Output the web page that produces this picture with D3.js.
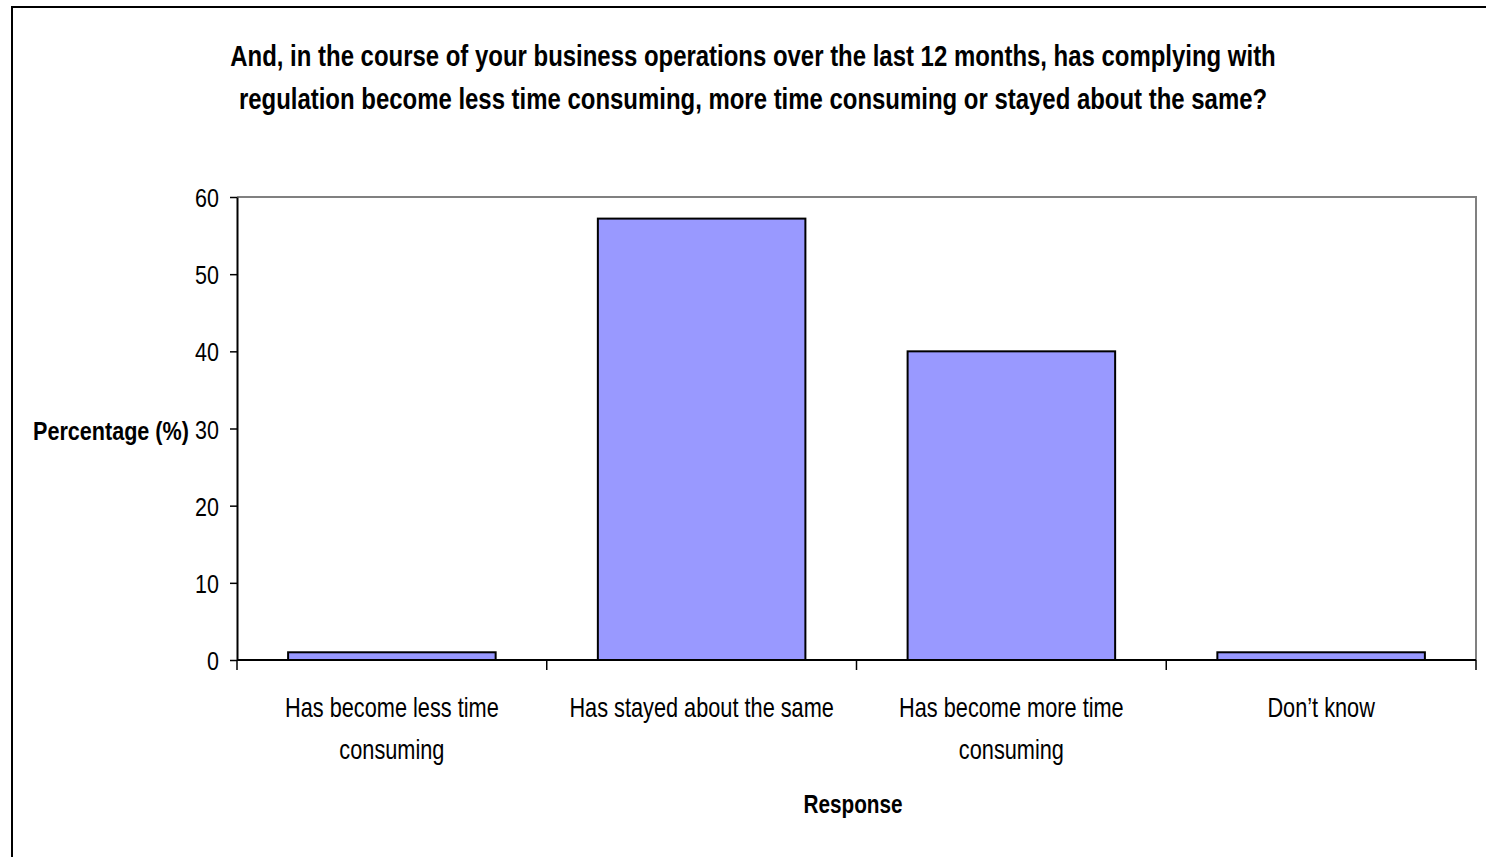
<!DOCTYPE html>
<html><head><meta charset="utf-8">
<script src="https://cdn.jsdelivr.net/npm/d3@7"></script>
<style>
html,body{margin:0;padding:0;background:#fff;}
svg{display:block;}
text{font-family:"Liberation Sans Narrow","Arial Narrow","Liberation Sans",sans-serif;fill:#000;}
</style></head>
<body>
<script>
const categories = [["Has become less time","consuming"],["Has stayed about the same"],["Has become more time","consuming"],["Don\u2019t know"]];
const values = [1, 57.2, 40, 1];
const yTicks = [0,10,20,30,40,50,60];
const titleLines = ["And, in the course of your business operations over the last 12 months, has complying with","regulation become less time consuming, more time consuming or stayed about the same?"];
const yLabel = "Percentage (%)";
const xLabel = "Response";

(function(){
const W = 1486, H = 857;
const svg = d3.select("body").append("svg").attr("width", W).attr("height", H);

svg.append("rect").attr("x",12).attr("y",7).attr("width",W+20).attr("height",H+20)
  .attr("fill","#fff").attr("stroke","#000").attr("stroke-width",2);

const pL = 237, pR = 1476, pT = 197, pB = 660;
const x = d3.scaleBand().domain(d3.range(categories.length)).range([pL,pR]).paddingInner(0.33).paddingOuter(0.165);
const xb = d3.scaleBand().domain(d3.range(categories.length)).range([pL,pR]);
const y = d3.scaleLinear().domain([0,60]).range([pB,pT]);

svg.append("path").attr("d",`M${pL},${pT}H${pR}V${pB}`).attr("fill","none").attr("stroke","#808080").attr("stroke-width",2);

svg.selectAll("rect.bar").data(values).enter().append("rect").attr("class","bar")
  .attr("x",(d,i)=>x(i)).attr("width",x.bandwidth())
  .attr("y",d=>y(d)).attr("height",d=>pB-y(d))
  .attr("fill","#9999ff").attr("stroke","#000").attr("stroke-width",2);

const tsx = 0.86;
const yAxis = d3.axisLeft(y).tickValues(yTicks).tickSize(7).tickSizeOuter(0).tickPadding(11);
const gy = svg.append("g").attr("transform",`translate(${pL},0)`).call(yAxis);
gy.attr("font-family",null).attr("font-size",null);
gy.select(".domain").attr("stroke","#000").attr("stroke-width",2);
gy.selectAll(".tick line").attr("stroke","#000").attr("stroke-width",1.5);
gy.selectAll(".tick text").style("font-size","25px").attr("dy","0.38em")
  .attr("x",-18/tsx).attr("transform",`scale(${tsx},1)`);

const gx = svg.append("g").attr("transform",`translate(0,${pB})`);
gx.append("line").attr("x1",pL).attr("x2",pR).attr("y1",0).attr("y2",0).attr("stroke","#000").attr("stroke-width",2);
const bounds = d3.range(categories.length+1).map(i=> i<categories.length ? xb(i) : pR);
gx.selectAll("line.tk").data(bounds).enter().append("line").attr("class","tk")
  .attr("x1",d=>d).attr("x2",d=>d).attr("y1",0).attr("y2",10).attr("stroke","#000").attr("stroke-width",1.5);
const lsx = 0.805;
const lbl = gx.selectAll("text.cat").data(categories).enter().append("text").attr("class","cat")
  .attr("text-anchor","middle").style("font-size","27px")
  .attr("transform",(d,i)=>`translate(${xb(i)+xb.bandwidth()/2},0) scale(${lsx},1)`);
lbl.each(function(lines){
  const t = d3.select(this);
  lines.forEach((s,j)=>t.append("tspan").attr("x",0).attr("y",57+j*42).text(s));
});

const ttsx = 0.826;
const tt = svg.append("text").attr("text-anchor","middle").style("font-size","29px").style("font-weight","bold")
  .attr("transform",`translate(753,0) scale(${ttsx},1)`);
titleLines.forEach((s,j)=>tt.append("tspan").attr("x",0).attr("y",66+j*43).text(s));

svg.append("text").attr("transform","translate(111,440) scale(0.83,1)").attr("text-anchor","middle")
  .style("font-size","26px").style("font-weight","bold").text(yLabel);
svg.append("text").attr("transform","translate(853,813) scale(0.83,1)").attr("text-anchor","middle")
  .style("font-size","25px").style("font-weight","bold").text(xLabel);
})();
</script>
</body></html>
